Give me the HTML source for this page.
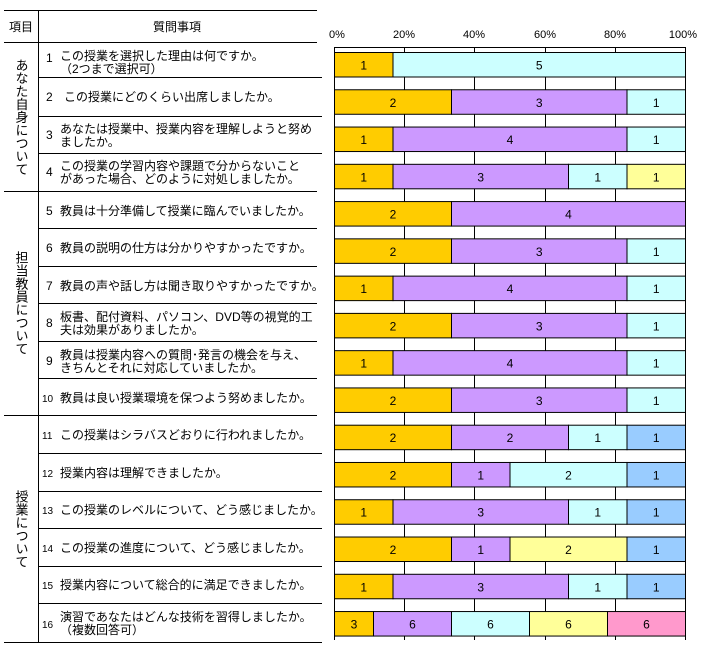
<!DOCTYPE html>
<html><head><meta charset="utf-8"><style>
body{margin:0;background:#fff;}
svg{display:block;font-family:"Liberation Sans","Noto Sans CJK JP",sans-serif;}
.o{fill:#FFCC00}.p{fill:#CC99FF}.c{fill:#CCFFFF}.y{fill:#FFFF99}.b{fill:#99CCFF}.k{fill:#FF99CC}
#bars rect{stroke:#000;stroke-width:1}
#bars text{font-size:12px;text-anchor:middle;fill:#000}
</style></head><body>
<svg width="703" height="657" xmlns="http://www.w3.org/2000/svg">
<g stroke="#000" stroke-width="1">
<line x1="4" y1="10.5" x2="317" y2="10.5"/>
<line x1="4" y1="42.5" x2="317" y2="42.5"/>
<line x1="38.5" y1="10" x2="38.5" y2="643"/>
<line x1="4" y1="191.5" x2="317" y2="191.5"/>
<line x1="4" y1="415.5" x2="317" y2="415.5"/>
<line x1="4" y1="642.5" x2="322" y2="642.5"/>
<line x1="38" y1="77.5" x2="322" y2="77.5"/>
<line x1="38" y1="116.5" x2="322" y2="116.5"/>
<line x1="38" y1="153.5" x2="322" y2="153.5"/>
<line x1="38" y1="228.5" x2="317" y2="228.5"/>
<line x1="38" y1="266.5" x2="317" y2="266.5"/>
<line x1="38" y1="303.5" x2="317" y2="303.5"/>
<line x1="38" y1="341.5" x2="317" y2="341.5"/>
<line x1="38" y1="378.5" x2="317" y2="378.5"/>
<line x1="38" y1="453.5" x2="322" y2="453.5"/>
<line x1="38" y1="491.5" x2="322" y2="491.5"/>
<line x1="38" y1="528.5" x2="322" y2="528.5"/>
<line x1="38" y1="566.5" x2="322" y2="566.5"/>
<line x1="38" y1="603.5" x2="322" y2="603.5"/>
</g>
<g font-size="12" fill="#000">
<text x="21" y="31" text-anchor="middle">項目</text>
<text x="177" y="31" text-anchor="middle">質問事項</text>
<text x="21" y="117" writing-mode="tb" text-anchor="middle" font-size="13">あなた自身について</text>
<text x="21" y="303" writing-mode="tb" text-anchor="middle" font-size="13">担当教員について</text>
<text x="21" y="529" writing-mode="tb" text-anchor="middle" font-size="13">授業について</text>
<text x="46" y="62">1</text><text x="60" y="60">この授業を選択した理由は何ですか。</text><text x="60" y="73">（2つまで選択可）</text>
<text x="46" y="101">2</text><text x="64" y="101">この授業にどのくらい出席しましたか。</text>
<text x="46" y="139">3</text><text x="60" y="133">あなたは授業中、授業内容を理解しようと努め</text><text x="60" y="146">ましたか。</text>
<text x="46" y="176">4</text><text x="60" y="170">この授業の学習内容や課題で分からないこと</text><text x="60" y="183">があった場合、どのように対処しましたか。</text>
<text x="46" y="215">5</text><text x="60" y="215">教員は十分準備して授業に臨んでいましたか。</text>
<text x="46" y="252">6</text><text x="60" y="252">教員の説明の仕方は分かりやすかったですか。</text>
<text x="46" y="290">7</text><text x="60" y="290">教員の声や話し方は聞き取りやすかったですか。</text>
<text x="46" y="327">8</text><text x="60" y="321">板書、配付資料、パソコン、DVD等の視覚的工</text><text x="60" y="334">夫は効果がありましたか。</text>
<text x="46" y="365">9</text><text x="60" y="359">教員は授業内容への質問･発言の機会を与え、</text><text x="60" y="372">きちんとそれに対応していましたか。</text>
<text x="42" y="402" font-size="10">10</text><text x="60" y="402">教員は良い授業環境を保つよう努めましたか。</text>
<text x="42" y="439" font-size="10">11</text><text x="60" y="439">この授業はシラバスどおりに行われましたか。</text>
<text x="42" y="477" font-size="10">12</text><text x="60" y="477">授業内容は理解できましたか。</text>
<text x="42" y="514" font-size="10">13</text><text x="60" y="514">この授業のレベルについて、どう感じましたか。</text>
<text x="42" y="552" font-size="10">14</text><text x="60" y="552">この授業の進度について、どう感じましたか。</text>
<text x="42" y="589" font-size="10">15</text><text x="60" y="589">授業内容について総合的に満足できましたか。</text>
<text x="42" y="628" font-size="10">16</text><text x="60" y="621">演習であなたはどんな技術を習得しましたか。</text><text x="60" y="634">（複数回答可）</text>
</g>
<g font-size="11" fill="#000" text-anchor="middle">
<text x="337" y="38">0%</text><text x="404" y="38">20%</text><text x="474" y="38">40%</text><text x="545" y="38">60%</text><text x="615" y="38">80%</text><text x="683" y="38">100%</text>
</g>
<g stroke="#000" stroke-width="1">
<line x1="404.5" y1="47" x2="404.5" y2="640"/>
<line x1="474.5" y1="47" x2="474.5" y2="640"/>
<line x1="545.5" y1="47" x2="545.5" y2="640"/>
<line x1="615.5" y1="47" x2="615.5" y2="640"/>
<line x1="334.5" y1="47" x2="334.5" y2="640"/>
<line x1="685.5" y1="47" x2="685.5" y2="640"/>
<line x1="334" y1="47.5" x2="686" y2="47.5"/>
</g>
<g id="bars">
<g transform="translate(0,52.5)"><rect class="o" x="334.5" y="0" width="58.5" height="24.5"/><text x="363.75" y="17">1</text><rect class="c" x="393" y="0" width="292.5" height="24.5"/><text x="539.25" y="17">5</text></g>
<g transform="translate(0,89.77)"><rect class="o" x="334.5" y="0" width="117" height="24.5"/><text x="393" y="17">2</text><rect class="p" x="451.5" y="0" width="175.5" height="24.5"/><text x="539.25" y="17">3</text><rect class="c" x="627" y="0" width="58.5" height="24.5"/><text x="656.25" y="17">1</text></g>
<g transform="translate(0,127.04)"><rect class="o" x="334.5" y="0" width="58.5" height="24.5"/><text x="363.75" y="17">1</text><rect class="p" x="393" y="0" width="234" height="24.5"/><text x="510" y="17">4</text><rect class="c" x="627" y="0" width="58.5" height="24.5"/><text x="656.25" y="17">1</text></g>
<g transform="translate(0,164.31)"><rect class="o" x="334.5" y="0" width="58.5" height="24.5"/><text x="363.75" y="17">1</text><rect class="p" x="393" y="0" width="175.5" height="24.5"/><text x="480.75" y="17">3</text><rect class="c" x="568.5" y="0" width="58.5" height="24.5"/><text x="597.75" y="17">1</text><rect class="y" x="627" y="0" width="58.5" height="24.5"/><text x="656.25" y="17">1</text></g>
<g transform="translate(0,201.58)"><rect class="o" x="334.5" y="0" width="117" height="24.5"/><text x="393" y="17">2</text><rect class="p" x="451.5" y="0" width="234" height="24.5"/><text x="568.5" y="17">4</text></g>
<g transform="translate(0,238.85)"><rect class="o" x="334.5" y="0" width="117" height="24.5"/><text x="393" y="17">2</text><rect class="p" x="451.5" y="0" width="175.5" height="24.5"/><text x="539.25" y="17">3</text><rect class="c" x="627" y="0" width="58.5" height="24.5"/><text x="656.25" y="17">1</text></g>
<g transform="translate(0,276.12)"><rect class="o" x="334.5" y="0" width="58.5" height="24.5"/><text x="363.75" y="17">1</text><rect class="p" x="393" y="0" width="234" height="24.5"/><text x="510" y="17">4</text><rect class="c" x="627" y="0" width="58.5" height="24.5"/><text x="656.25" y="17">1</text></g>
<g transform="translate(0,313.39)"><rect class="o" x="334.5" y="0" width="117" height="24.5"/><text x="393" y="17">2</text><rect class="p" x="451.5" y="0" width="175.5" height="24.5"/><text x="539.25" y="17">3</text><rect class="c" x="627" y="0" width="58.5" height="24.5"/><text x="656.25" y="17">1</text></g>
<g transform="translate(0,350.66)"><rect class="o" x="334.5" y="0" width="58.5" height="24.5"/><text x="363.75" y="17">1</text><rect class="p" x="393" y="0" width="234" height="24.5"/><text x="510" y="17">4</text><rect class="c" x="627" y="0" width="58.5" height="24.5"/><text x="656.25" y="17">1</text></g>
<g transform="translate(0,387.93)"><rect class="o" x="334.5" y="0" width="117" height="24.5"/><text x="393" y="17">2</text><rect class="p" x="451.5" y="0" width="175.5" height="24.5"/><text x="539.25" y="17">3</text><rect class="c" x="627" y="0" width="58.5" height="24.5"/><text x="656.25" y="17">1</text></g>
<g transform="translate(0,425.2)"><rect class="o" x="334.5" y="0" width="117" height="24.5"/><text x="393" y="17">2</text><rect class="p" x="451.5" y="0" width="117" height="24.5"/><text x="510" y="17">2</text><rect class="c" x="568.5" y="0" width="58.5" height="24.5"/><text x="597.75" y="17">1</text><rect class="b" x="627" y="0" width="58.5" height="24.5"/><text x="656.25" y="17">1</text></g>
<g transform="translate(0,462.47)"><rect class="o" x="334.5" y="0" width="117" height="24.5"/><text x="393" y="17">2</text><rect class="p" x="451.5" y="0" width="58.5" height="24.5"/><text x="480.75" y="17">1</text><rect class="c" x="510" y="0" width="117" height="24.5"/><text x="568.5" y="17">2</text><rect class="b" x="627" y="0" width="58.5" height="24.5"/><text x="656.25" y="17">1</text></g>
<g transform="translate(0,499.74)"><rect class="o" x="334.5" y="0" width="58.5" height="24.5"/><text x="363.75" y="17">1</text><rect class="p" x="393" y="0" width="175.5" height="24.5"/><text x="480.75" y="17">3</text><rect class="c" x="568.5" y="0" width="58.5" height="24.5"/><text x="597.75" y="17">1</text><rect class="b" x="627" y="0" width="58.5" height="24.5"/><text x="656.25" y="17">1</text></g>
<g transform="translate(0,537.01)"><rect class="o" x="334.5" y="0" width="117" height="24.5"/><text x="393" y="17">2</text><rect class="p" x="451.5" y="0" width="58.5" height="24.5"/><text x="480.75" y="17">1</text><rect class="y" x="510" y="0" width="117" height="24.5"/><text x="568.5" y="17">2</text><rect class="b" x="627" y="0" width="58.5" height="24.5"/><text x="656.25" y="17">1</text></g>
<g transform="translate(0,574.28)"><rect class="o" x="334.5" y="0" width="58.5" height="24.5"/><text x="363.75" y="17">1</text><rect class="p" x="393" y="0" width="175.5" height="24.5"/><text x="480.75" y="17">3</text><rect class="c" x="568.5" y="0" width="58.5" height="24.5"/><text x="597.75" y="17">1</text><rect class="b" x="627" y="0" width="58.5" height="24.5"/><text x="656.25" y="17">1</text></g>
<g transform="translate(0,611.55)"><rect class="o" x="334.5" y="0" width="39" height="24.5"/><text x="354" y="17">3</text><rect class="p" x="373.5" y="0" width="78" height="24.5"/><text x="412.5" y="17">6</text><rect class="c" x="451.5" y="0" width="78" height="24.5"/><text x="490.5" y="17">6</text><rect class="y" x="529.5" y="0" width="78" height="24.5"/><text x="568.5" y="17">6</text><rect class="k" x="607.5" y="0" width="78" height="24.5"/><text x="646.5" y="17">6</text></g>
</g>
</svg>
</body></html>
